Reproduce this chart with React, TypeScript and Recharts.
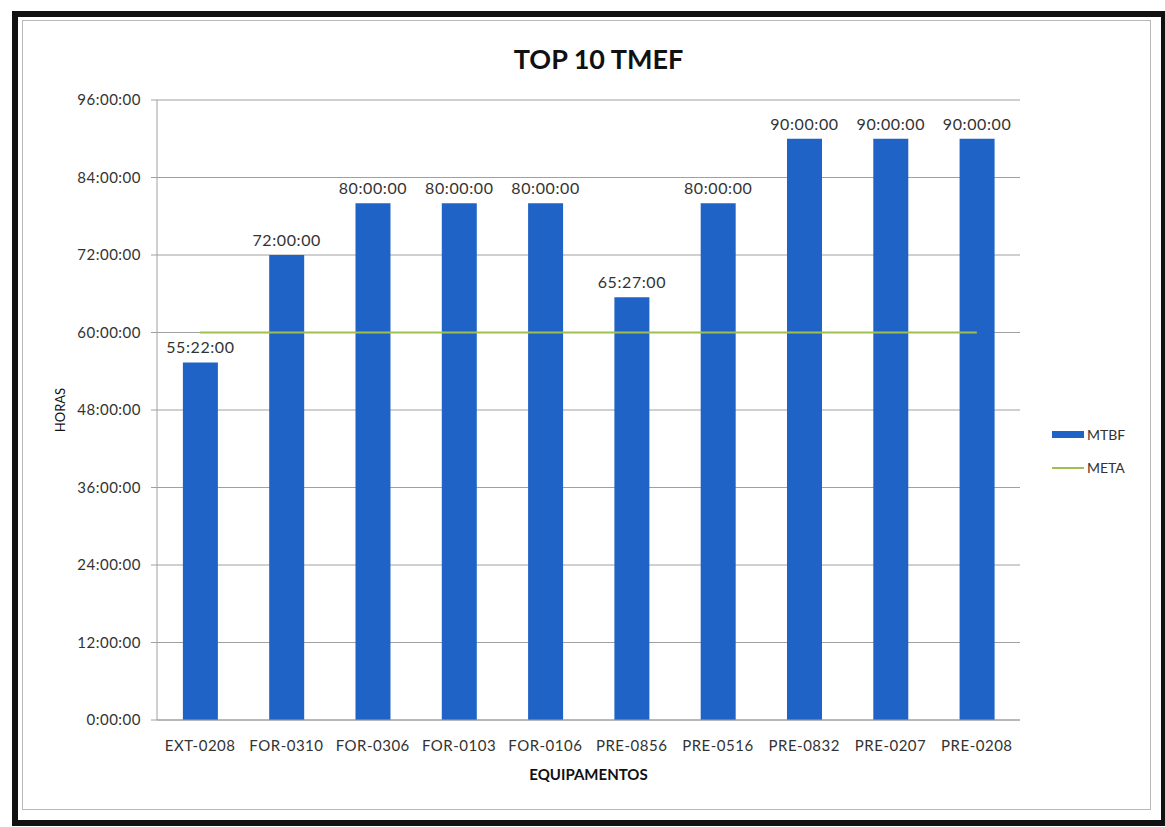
import React from 'react';
import {
  ComposedChart,
  Bar,
  Line,
  XAxis,
  YAxis,
  CartesianGrid,
  Legend,
  LabelList,
  Label,
} from 'recharts';

const EQUIPAMENTOS = [
  'EXT-0208', 'FOR-0310', 'FOR-0306', 'FOR-0103', 'FOR-0106',
  'PRE-0856', 'PRE-0516', 'PRE-0832', 'PRE-0207', 'PRE-0208',
];
const MTBF = [
  '55:22:00', '72:00:00', '80:00:00', '80:00:00', '80:00:00',
  '65:27:00', '80:00:00', '90:00:00', '90:00:00', '90:00:00',
];
const META = ['60:00:00', '60:00:00', '60:00:00', '60:00:00', '60:00:00',
  '60:00:00', '60:00:00', '60:00:00', '60:00:00', '60:00:00'];
const Y_TICKS = [0, 12, 24, 36, 48, 60, 72, 84, 96];

const COLORS = {
  bar: '#1f63c6',
  meta: '#9fbf4f',
  grid: '#a0a0a0',
  text: '#333333',
};
const FONT = 'Lato, "Open Sans", sans-serif';

// "HH:MM:SS" -> hours
const toHours = (s: string) => {
  const [h, m, sec] = s.split(':').map(Number);
  return h + m / 60 + sec / 3600;
};

const fmtTick = (v: number) => (v === 0 ? '0:00:00' : `${v}:00:00`);

const data = EQUIPAMENTOS.map((name, i) => ({
  name,
  mtbf: toHours(MTBF[i]),
  mtbfLabel: MTBF[i],
  meta: toHours(META[i]),
}));

const LegendBox = () => (
  <div style={{ fontFamily: FONT, fontSize: 14, color: COLORS.text, lineHeight: '33px' }}>
    <div style={{ display: 'flex', alignItems: 'center' }}>
      <span style={{ display: 'inline-block', width: 32, height: 7, background: COLORS.bar, marginRight: 3 }} />
      MTBF
    </div>
    <div style={{ display: 'flex', alignItems: 'center' }}>
      <span style={{ display: 'inline-block', width: 32, height: 2, background: COLORS.meta, marginRight: 3 }} />
      META
    </div>
  </div>
);

const tickStyle = { fill: COLORS.text, fontSize: 15, fontFamily: FONT, letterSpacing: 0.5 };

export default function App() {
  return (
    <div style={{ position: 'absolute', left: 0, top: 0, width: 1165, height: 827, background: '#fff', fontFamily: FONT }}>
      <div style={{ position: 'absolute', left: 12, top: 11, width: 1143, height: 803, border: '6px solid #111' }} />
      <div style={{ position: 'absolute', left: 22, top: 20, width: 1127, height: 788, border: '1px solid #b8b8b8' }} />
      <div style={{
        position: 'absolute', left: 0, width: 1165, top: 42, textAlign: 'center',
        fontSize: 27, fontWeight: 700, color: '#111', paddingLeft: 16,
      }}>
        TOP 10 TMEF
      </div>
      <div style={{ position: 'absolute', left: 0, top: 0 }}>
        <ComposedChart
          width={1165}
          height={827}
          data={data}
          margin={{ top: 100, right: 45, bottom: 37, left: 50 }}
          barCategoryGap="30%"
        >
          <CartesianGrid vertical={false} stroke={COLORS.grid} strokeWidth={1} />
          <XAxis
            dataKey="name"
            axisLine={{ stroke: COLORS.grid }}
            tickLine={false}
            tickMargin={14}
            height={70}
            tick={tickStyle}
            interval={0}
          >
            <Label value="EQUIPAMENTOS" position="insideBottom" offset={10}
              style={{ fontSize: 15, fontWeight: 700, fill: '#111', fontFamily: FONT }} />
          </XAxis>
          <YAxis
            domain={[0, 96]}
            ticks={Y_TICKS}
            tickFormatter={fmtTick}
            axisLine={{ stroke: COLORS.grid }}
            tickLine={{ stroke: COLORS.grid }}
            tickSize={6}
            tickMargin={10}
            width={107}
            tick={tickStyle}
          >
            <Label value="HORAS" angle={-90} position="insideLeft" offset={10}
              style={{ fontSize: 13, fill: '#111', fontFamily: FONT, textAnchor: 'middle' }} />
          </YAxis>
          <Legend
            layout="vertical"
            align="right"
            verticalAlign="middle"
            content={<LegendBox />}
            wrapperStyle={{ left: 1052, top: 418, width: 100 }}
          />
          <Bar dataKey="mtbf" name="MTBF" fill={COLORS.bar} isAnimationActive={false}>
            <LabelList dataKey="mtbfLabel" position="top" offset={9}
              style={{ fontSize: 16, fill: COLORS.text, fontFamily: FONT, letterSpacing: 0.6 }} />
          </Bar>
          <Line
            dataKey="meta"
            name="META"
            stroke={COLORS.meta}
            strokeWidth={2}
            dot={false}
            activeDot={false}
            isAnimationActive={false}
          />
        </ComposedChart>
      </div>
    </div>
  );
}
